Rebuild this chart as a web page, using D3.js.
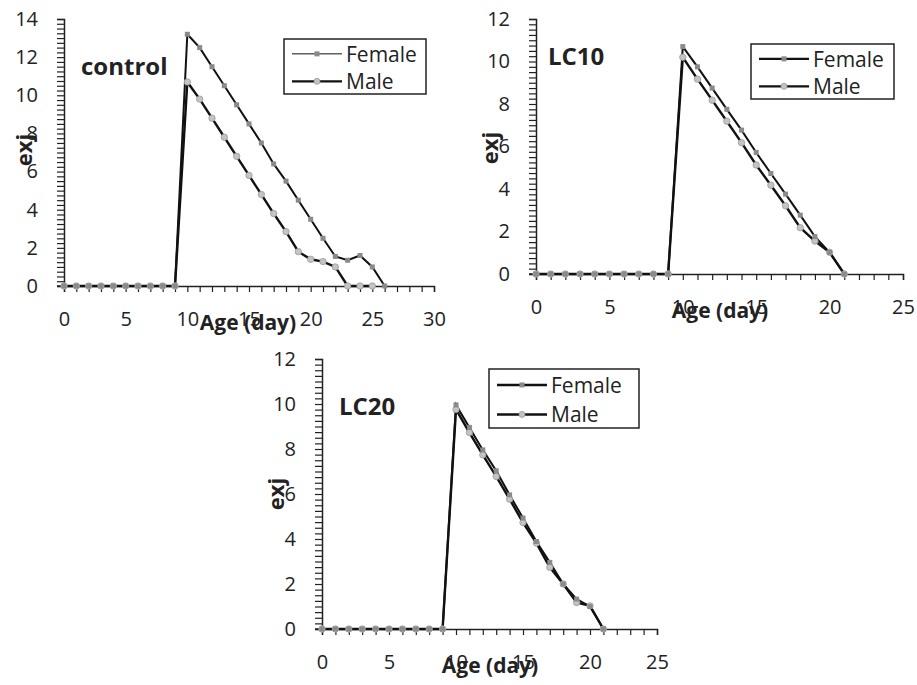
<!DOCTYPE html>
<html>
<head>
<meta charset="utf-8">
<script src="https://cdn.jsdelivr.net/npm/d3@7"></script>
<style>
  body { margin: 0; background: #fff; }
  svg text { font-family: "Open Sans", "Liberation Sans", sans-serif; fill: #222; }
</style>
</head>
<body>
<div id="chart"></div>
<script>

//Data: age (day) and exj for each sex
var controlFemaleDays = d3.range(0, 27);
var controlFemale = [0, 0, 0, 0, 0, 0, 0, 0, 0, 0, 13.2, 12.5, 11.5, 10.5, 9.5, 8.5, 7.5, 6.4, 5.5, 4.5, 3.5, 2.5, 1.55, 1.35, 1.6, 1.0, 0];
var controlMaleDays = d3.range(0, 26);
var controlMale = [0, 0, 0, 0, 0, 0, 0, 0, 0, 0, 10.7, 9.8, 8.8, 7.8, 6.8, 5.8, 4.8, 3.8, 2.85, 1.8, 1.4, 1.28, 1.0, 0, 0, 0];

var lc10Days = d3.range(0, 22);
var lc10Female = [0, 0, 0, 0, 0, 0, 0, 0, 0, 0, 10.7, 9.75, 8.75, 7.75, 6.77, 5.72, 4.73, 3.76, 2.77, 1.76, 1.02, 0];
var lc10Male = [0, 0, 0, 0, 0, 0, 0, 0, 0, 0, 10.2, 9.17, 8.18, 7.19, 6.18, 5.13, 4.18, 3.21, 2.18, 1.55, 1.02, 0];

var lc20Days = d3.range(0, 22);
var lc20Female = [0, 0, 0, 0, 0, 0, 0, 0, 0, 0, 9.96, 8.96, 7.96, 7.03, 5.96, 4.93, 3.89, 2.96, 2.0, 1.33, 1.0, 0];
var lc20Male = [0, 0, 0, 0, 0, 0, 0, 0, 0, 0, 9.76, 8.73, 7.74, 6.78, 5.77, 4.73, 3.82, 2.74, 2.0, 1.18, 1.03, 0];

var seriesNames = ["Female", "Male"];
var xTitle = "Age (day)";
var yTitle = "exj";

var w = 917;
var h = 685;

var svg = d3.select("#chart")
            .append("svg")
            .attr("width", w)
            .attr("height", h);

svg.append("rect")
    .attr("width", w)
    .attr("height", h)
    .attr("fill", "#fff");

var zip = function(days, vals) {
    return days.map(function(d, i) { return {day: d, v: vals[i]}; });
};

function drawPanel(p) {

    var x = d3.scaleLinear()
                .domain([0, p.xMax])
                .range([p.left, p.right]);

    var y = d3.scaleLinear()
                .domain([0, p.yMax])
                .range([p.bottom, p.top]);

    var g = svg.append("g");

    //Axes
    var yAxis = d3.axisLeft(y)
                    .tickValues(d3.range(0, p.yMax + 0.01, 0.25))
                    .tickFormat(function(d) { return d % 2 === 0 ? d : ""; })
                    .tickSize(7)
                    .tickPadding(19);

    var xAxis = d3.axisBottom(x)
                    .tickValues(d3.range(0, p.xMax + 0.01, 1))
                    .tickFormat(function(d) { return d % 5 === 0 ? d : ""; })
                    .tickSize(6)
                    .tickPadding(20);

    var ya = g.append("g")
        .attr("transform", "translate(" + p.left + ",0)")
        .call(yAxis);

    var xa = g.append("g")
        .attr("transform", "translate(0," + p.bottom + ")")
        .call(xAxis);

    [ya, xa].forEach(function(a) {
        a.select(".domain").attr("stroke", "#222").attr("stroke-width", 1.5);
        a.selectAll(".tick line").attr("stroke", "#222").attr("stroke-width", 1.2);
        a.selectAll("text")
            .style("font-family", "'Open Sans', sans-serif")
            .style("font-size", "20px")
            .attr("fill", "#2a2a2a");
    });
    //extend the x axis line to the left tick
    g.append("line")
        .attr("x1", p.left - 7)
        .attr("x2", p.left)
        .attr("y1", p.bottom)
        .attr("y2", p.bottom)
        .attr("stroke", "#222")
        .attr("stroke-width", 1.5);

    //Lines
    var line = d3.line()
                    .x(function(d) { return x(d.day); })
                    .y(function(d) { return y(d.v); });

    var male = zip(p.maleDays, p.male);
    var female = zip(p.femaleDays, p.female);

    g.append("path")
        .datum(male)
        .attr("d", line)
        .attr("fill", "none")
        .attr("stroke", "#111")
        .attr("stroke-width", 2.4);

    g.append("path")
        .datum(female)
        .attr("d", line)
        .attr("fill", "none")
        .attr("stroke", "#111")
        .attr("stroke-width", 2);

    //Markers
    g.selectAll(".mMale")
        .data(male)
        .join("circle")
        .attr("cx", function(d) { return x(d.day); })
        .attr("cy", function(d) { return y(d.v); })
        .attr("r", 3.2)
        .attr("fill", "#c4c4c4")
        .attr("stroke", "#999")
        .attr("stroke-width", 0.8);

    g.selectAll(".mFemale")
        .data(female)
        .join("rect")
        .attr("x", function(d) { return x(d.day) - 2.5; })
        .attr("y", function(d) { return y(d.v) - 2.5; })
        .attr("width", 5)
        .attr("height", 5)
        .attr("fill", "#8a8a8a");

    //Panel label
    g.append("text")
        .attr("x", p.labelX)
        .attr("y", p.labelY)
        .style("font-size", "24px")
        .style("font-weight", "bold")
        .text(p.label);

    //Axis titles
    g.append("text")
        .attr("x", p.xTitleX)
        .attr("y", p.bottom + 44)
        .attr("text-anchor", "middle")
        .style("font-size", "21px")
        .style("font-weight", "bold")
        .text(xTitle);

    g.append("text")
        .attr("transform", "translate(" + (p.yTitleX) + "," + p.yTitleY + ") rotate(-90)")
        .attr("text-anchor", "middle")
        .style("font-size", "22px")
        .style("font-weight", "bold")
        .text(yTitle);

    //Legend
    var lg = g.append("g")
        .attr("transform", "translate(" + p.legX + "," + p.legY + ")");

    lg.append("rect")
        .attr("width", p.legW)
        .attr("height", p.legH)
        .attr("fill", "#fff")
        .attr("stroke", "#222")
        .attr("stroke-width", 1.5);

    seriesNames.forEach(function(name, i) {
        var ly = p.legH * 0.27 + i * p.legH * 0.5;
        lg.append("line")
            .attr("x1", 8)
            .attr("x2", 58)
            .attr("y1", ly)
            .attr("y2", ly)
            .attr("stroke", "#111")
            .attr("stroke-width", (i === 0 ? p.legFemaleWidth : 2.4));
        if (i === 0) {
            lg.append("rect")
                .attr("x", 30.5)
                .attr("y", ly - 2.5)
                .attr("width", 5)
                .attr("height", 5)
                .attr("fill", "#8a8a8a");
        } else {
            lg.append("circle")
                .attr("cx", 33)
                .attr("cy", ly)
                .attr("r", 3)
                .attr("fill", "#c4c4c4")
                .attr("stroke", "#999")
                .attr("stroke-width", 0.8);
        }
        lg.append("text")
            .attr("x", 62)
            .attr("y", ly + 8)
            .style("font-size", "21px")
            .attr("fill", "#333")
            .text(name);
    });
}

drawPanel({
    label: "control", xMax: 30, yMax: 14,
    left: 64, right: 434, top: 19, bottom: 286,
    femaleDays: controlFemaleDays, female: controlFemale,
    maleDays: controlMaleDays, male: controlMale,
    labelX: 81, labelY: 75,
    xTitleX: 248, yTitleX: 32, yTitleY: 150,
    legX: 284, legY: 39, legW: 142, legH: 55, legFemaleWidth: 1
});

drawPanel({
    label: "LC10", xMax: 25, yMax: 12,
    left: 536, right: 903, top: 19, bottom: 274,
    femaleDays: lc10Days, female: lc10Female,
    maleDays: lc10Days, male: lc10Male,
    labelX: 548, labelY: 65,
    xTitleX: 720, yTitleX: 498, yTitleY: 148,
    legX: 751, legY: 44, legW: 143, legH: 55, legFemaleWidth: 2.4
});

drawPanel({
    label: "LC20", xMax: 25, yMax: 12,
    left: 322, right: 657, top: 359, bottom: 629,
    femaleDays: lc20Days, female: lc20Female,
    maleDays: lc20Days, male: lc20Male,
    labelX: 339, labelY: 415,
    xTitleX: 490, yTitleX: 284, yTitleY: 494,
    legX: 489, legY: 369, legW: 150, legH: 59, legFemaleWidth: 2.4
});

</script>
</body>
</html>
